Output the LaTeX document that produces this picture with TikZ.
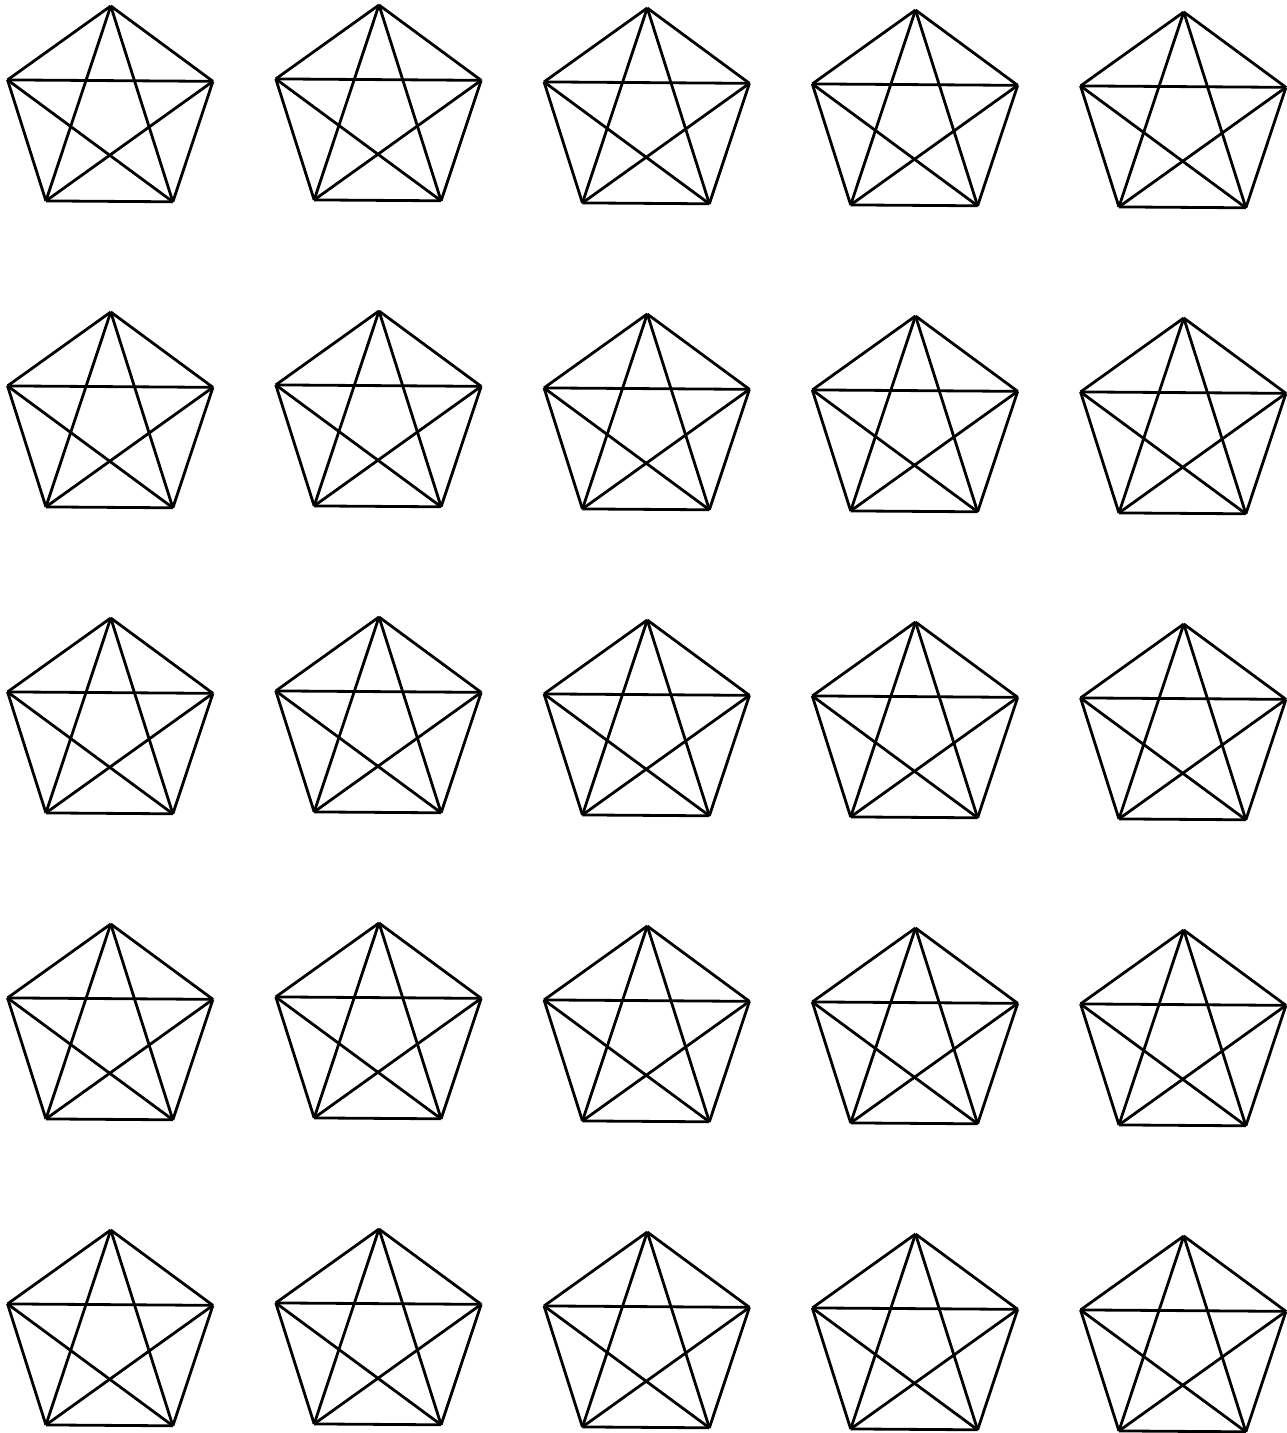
\documentclass[tikz,border=0pt]{standalone}
\begin{document}
\begin{tikzpicture}[
  x=0.5pt,y=0.5pt,
  edge/.style={line width=1.4pt,draw=black},
]
\useasboundingbox (0,0) rectangle (1286,-1433);
% ================= 5 x 5 grid of complete graphs K5 =================
\foreach \row in {0,...,4}{
  \foreach \col/\dy in {0/6,1/5,2/8,3/10,4/12}{
    \begin{scope}[shift={({110+268.25*\col},{-(\dy+108+306*\row)})},rotate=-0.4]
      \foreach \k in {1,...,5}
        \coordinate (k\row\col-\k) at ({90+72*(\k-1)}:108);
      \foreach \a/\b in {1/2,1/3,1/4,1/5,2/3,2/4,2/5,3/4,3/5,4/5}
        \draw[edge] (k\row\col-\a) -- (k\row\col-\b);
    \end{scope}
  }
}
\end{tikzpicture}
\end{document}
